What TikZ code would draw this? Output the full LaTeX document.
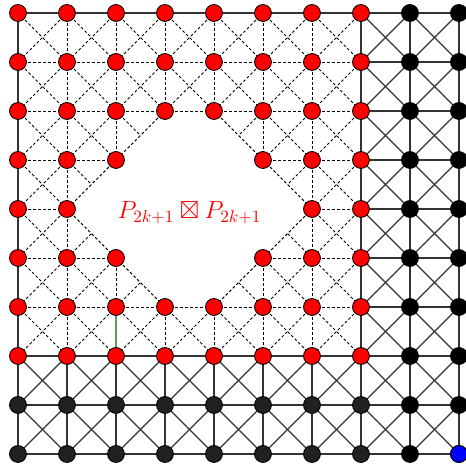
\documentclass[tikz,border=0pt]{standalone}
\usepackage{amsmath, amssymb}
\usetikzlibrary{positioning}
\definecolor{edgegreen}{RGB}{90,160,90}
\tikzset{
  solidedge/.style={draw=black!80, line width=0.7pt},
  dashedge/.style={draw=black, line width=0.55pt, dash pattern=on 1.6pt off 1.3pt},
  greenedge/.style={draw=edgegreen, line width=0.7pt},
  vert/.style={circle, draw=black, line width=0.5pt, inner sep=0pt, minimum size=0.345cm},
  rednode/.style={vert, fill=red},
  darknode/.style={vert, fill=black!87},
  blacknode/.style={vert, fill=black},
  bluenode/.style={vert, fill=blue},
  prodlabel/.style={text=red, font=\Large}
}
\begin{document}
\begin{tikzpicture}
  \useasboundingbox (-0.367,0.265) rectangle (9.143,-9.327);
  % grid points
  \foreach \i in {0,...,9} {
    \foreach \j in {0,...,9} {
      \coordinate (p\i\j) at (\i,-\j);
    }
  }

  % dashed edges inside the red block
  \foreach \j in {1,...,6} {
    \foreach \i [evaluate=\i as \k using int(\i+1)] in {0,...,6} {
      \draw[dashedge] (p\i\j) -- (p\k\j);
    }
  }
  \foreach \i in {1,...,6} {
    \foreach \j [evaluate=\j as \l using int(\j+1)] in {0,...,6} {
      \draw[dashedge] (p\i\j) -- (p\i\l);
    }
  }
  \foreach \i [evaluate=\i as \k using int(\i+1)] in {0,...,6} {
    \foreach \j [evaluate=\j as \l using int(\j+1)] in {0,...,6} {
      \draw[dashedge] (p\i\j) -- (p\k\l);
      \draw[dashedge] (p\k\j) -- (p\i\l);
    }
  }

  % the hole
  \fill[white] (p23) -- (p14) -- (p25) -- (p36) -- (p46) -- (p55) -- (p64)
    -- (p53) -- (p42) -- (p32) -- cycle;
  \foreach \a/\b in {23/14, 14/25, 25/36, 36/46, 55/46, 64/55, 53/64, 42/53, 32/42, 32/23} {
    \draw[dashedge] (p\a) -- (p\b);
  }

  % solid edges
  \foreach \j in {0,7,8,9} {
    \foreach \i [evaluate=\i as \k using int(\i+1)] in {0,...,8} {
      \draw[solidedge] (p\i\j) -- (p\k\j);
    }
  }
  \foreach \j in {1,...,6} {
    \foreach \i [evaluate=\i as \k using int(\i+1)] in {7,8} {
      \draw[solidedge] (p\i\j) -- (p\k\j);
    }
  }
  \foreach \i in {0,7,8,9} {
    \foreach \j [evaluate=\j as \l using int(\j+1)] in {0,...,8} {
      \draw[solidedge] (p\i\j) -- (p\i\l);
    }
  }
  \foreach \i in {1,...,6} {
    \foreach \j [evaluate=\j as \l using int(\j+1)] in {7,8} {
      \draw[solidedge] (p\i\j) -- (p\i\l);
    }
  }
  \foreach \i [evaluate=\i as \k using int(\i+1)] in {7,8} {
    \foreach \j [evaluate=\j as \l using int(\j+1)] in {0,...,8} {
      \draw[solidedge] (p\i\j) -- (p\k\l);
      \draw[solidedge] (p\k\j) -- (p\i\l);
    }
  }
  \foreach \i [evaluate=\i as \k using int(\i+1)] in {0,...,6} {
    \foreach \j [evaluate=\j as \l using int(\j+1)] in {7,8} {
      \draw[solidedge] (p\i\j) -- (p\k\l);
      \draw[solidedge] (p\k\j) -- (p\i\l);
    }
  }
  \draw[greenedge] (p26) -- (p27);

  % vertices
  \foreach \j/\cols in {0/{0,...,7}, 1/{0,...,7}, 2/{0,...,7}, 3/{0,1,2,5,6,7},
      4/{0,1,6,7}, 5/{0,1,2,5,6,7}, 6/{0,...,7}, 7/{0,...,7}} {
    \foreach \i in \cols {
      \node[rednode] (v\i\j) at (p\i\j) {};
    }
  }
  \foreach \j in {8,9} {
    \foreach \i in {0,...,7} {
      \node[darknode] (v\i\j) at (p\i\j) {};
    }
  }
  \foreach \i in {8,9} {
    \foreach \j in {0,...,9} {
      \node[blacknode] (v\i\j) at (p\i\j) {};
    }
  }
  \node[bluenode] (v99) at (p99) {};

  \node[prodlabel] (lbl) at (3.5,-4.08) {$P_{2k+1}\boxtimes P_{2k+1}$};
\end{tikzpicture}
\end{document}
